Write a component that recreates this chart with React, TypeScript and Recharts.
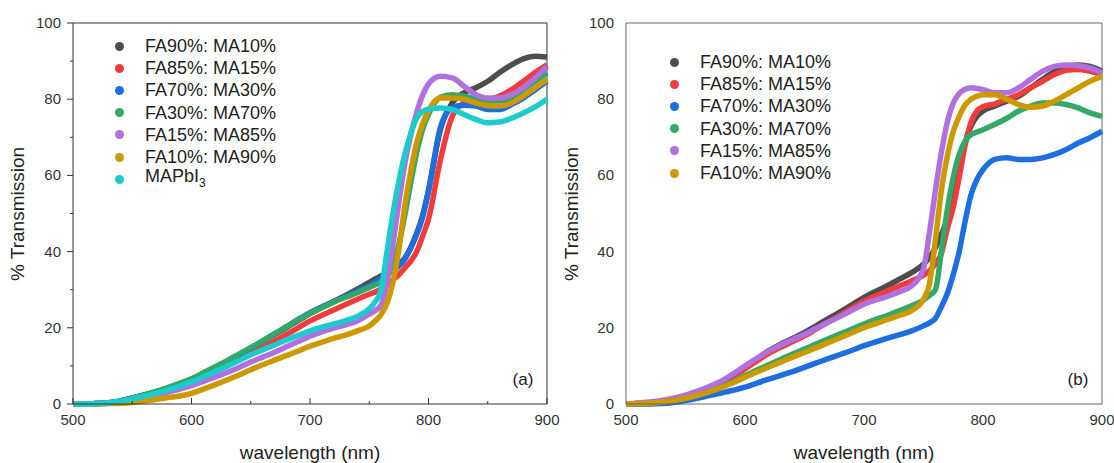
import React from "react";
import { LineChart, Line, XAxis, YAxis, ReferenceLine } from "recharts";

// wavelength grid (nm) — finer around the absorption edge
const wavelengths = [
  500, 510, 520, 530, 540, 550, 560, 570, 580, 590, 600, 610, 620, 630, 640, 650, 660, 670, 680, 690,
  700, 710, 720, 730, 740, 750, 755, 760, 765, 770, 775, 780, 785, 790, 795, 800, 810, 820, 830, 840,
  850, 860, 870, 880, 890, 900,
];

// panel (a)
const aFA90 = [
  0, 0, 0.1, 0.3, 0.8, 1.5, 2.3, 3.2, 4.2, 5.3, 6.5, 8, 9.6, 11.2, 12.9, 14.6, 16.4, 18.2, 20, 21.9,
  23.7, 25.3, 26.9, 28.5, 30.2, 31.9, 32.8, 33.6, 34.6, 35.6, 36.8, 38.3, 41, 44.8, 49.5, 56, 72, 79, 81.7, 83,
  84.7, 87, 89, 90.6, 91.3, 91.1,
];
const aFA85 = [
  0, 0, 0.1, 0.3, 0.7, 1.4, 2.1, 3, 4, 5.1, 6.2, 7.5, 8.9, 10.3, 11.7, 13.1, 14.8, 16.5, 18.2, 20,
  21.8, 23.3, 24.7, 26.1, 27.5, 28.8, 29.4, 30.2, 31.3, 32.6, 34, 35.7, 37.5, 40, 44, 48.5, 64, 75.5, 79, 80,
  80, 80.8, 82.5, 84.7, 87, 89,
];
const aFA70 = [
  0, 0, 0.1, 0.3, 0.8, 1.5, 2.3, 3.2, 4.2, 5.3, 6.4, 7.9, 9.5, 11.2, 12.9, 14.7, 16.5, 18.4, 20.3, 22.2,
  24, 25.5, 26.9, 28.3, 29.7, 31, 32, 33, 34, 35, 36.2, 38, 41, 44.5, 49, 56, 72.5, 77.8, 78.4, 78.2,
  77.3, 77.3, 78.6, 80.3, 82.5, 84.7,
];
const aFA30 = [
  0, 0, 0.1, 0.3, 0.8, 1.6, 2.4, 3.3, 4.3, 5.4, 6.6, 8.2, 9.8, 11.4, 13.1, 14.8, 16.6, 18.4, 20.2, 22.1,
  23.8, 25.3, 26.7, 28, 29.2, 30.6, 31.3, 32, 33.5, 36, 42, 49.5, 58, 66, 72, 76, 80.5, 81.2, 80.8, 80,
  79.5, 79.5, 80.3, 82.5, 84.7, 86.9,
];
const aFA15 = [
  0, 0, 0.1, 0.2, 0.5, 1, 1.6, 2.3, 3.1, 3.9, 4.8, 5.9, 7.1, 8.3, 9.6, 11, 12.3, 13.6, 15, 16.4,
  17.8, 18.9, 19.9, 20.8, 21.8, 23.6, 24.5, 26, 32, 42, 53, 63, 70.5, 76.5, 81, 84, 86, 85.6, 83.4, 81.2,
  80.3, 80.3, 81.2, 83, 85.6, 88.6,
];
const aFA10 = [
  0, 0, 0, 0.1, 0.2, 0.4, 0.8, 1.2, 1.7, 2.1, 2.8, 3.9, 5.1, 6.3, 7.6, 9, 10.3, 11.5, 12.7, 13.9,
  15.2, 16.2, 17.2, 18.1, 19.2, 20.5, 21.8, 23.5, 26.5, 32, 40.5, 52, 61, 68.5, 73.5, 77, 80.3, 80.3, 80, 79,
  78.3, 78.2, 79, 80.8, 83, 85.2,
];
const aMAPbI3 = [
  0, 0, 0.1, 0.3, 0.7, 1.3, 2, 2.8, 3.7, 4.7, 5.8, 7.1, 8.5, 9.9, 11.4, 12.9, 14.2, 15.5, 16.8, 18,
  19.2, 20.2, 21, 21.9, 23, 25, 26.8, 30, 40, 50, 58.5, 65.5, 71, 75, 76.8, 77.4, 77.7, 77.3, 76, 74.7,
  73.8, 74, 75, 76.4, 78, 80,
];

// panel (b)
const bFA90 = [
  0, 0.1, 0.3, 0.6, 1.1, 2, 3, 4.2, 5.6, 7.5, 9.6, 11.8, 14, 15.7, 17.2, 18.8, 20.6, 22.4, 24.2, 26.1,
  28, 29.6, 31.1, 32.8, 34.5, 36.7, 38.5, 41, 44.5, 48.5, 54, 61, 68.5, 73, 75.5, 76.9, 78.2, 79.5, 80.8, 83,
  85.2, 87.3, 88.6, 89, 88.6, 87.3,
];
const bFA85 = [
  0, 0.1, 0.3, 0.6, 1.1, 1.9, 2.9, 4.1, 5.5, 7.3, 9.2, 11.3, 13.3, 14.9, 16.4, 17.9, 19.7, 21.5, 23.3, 25.2,
  27, 28.4, 29.7, 31, 32.3, 33.8, 35, 36.8, 39.5, 46, 51.7, 59.5, 68, 74, 77, 78, 78.8, 80, 81.2, 83,
  84.7, 86.5, 87.6, 87.8, 87.3, 86.5,
];
const bFA70 = [
  0, 0, 0, 0.1, 0.4, 0.9, 1.5, 2.2, 2.9, 3.6, 4.4, 5.5, 6.5, 7.5, 8.5, 9.6, 10.8, 11.9, 13, 14.1,
  15.3, 16.3, 17.3, 18.2, 19.2, 20.5, 21.3, 22.5, 25.5, 29, 34, 40, 48, 55, 59, 61.5, 64.2, 64.6, 64.2, 64.2,
  64.6, 65.5, 66.8, 68.5, 69.9, 71.6,
];
const bFA30 = [
  0, 0.1, 0.2, 0.5, 0.9, 1.5, 2.3, 3.3, 4.5, 5.9, 7.4, 8.9, 10.3, 11.7, 13.1, 14.4, 15.8, 17.1, 18.4, 19.7,
  21, 22.2, 23.3, 24.5, 25.8, 27.3, 28.5, 30, 40, 51, 59.5, 65.5, 69, 70.7, 71.4, 72, 73.4, 75, 76.9, 78.2,
  79, 79, 78.6, 77.7, 76.4, 75.5,
];
const bFA15 = [
  0, 0.2, 0.5, 0.9, 1.5, 2.3, 3.4, 4.6, 6, 7.9, 10, 12, 13.9, 15.5, 16.9, 18.3, 19.9, 21.5, 23, 24.6,
  26.2, 27.3, 28.3, 29.5, 31, 35.5, 45, 56, 66, 74, 79, 81.5, 82.6, 83, 82.8, 82.5, 81.7, 81.7, 83, 85.2,
  87.3, 88.6, 89, 88.8, 88.2, 86.9,
];
const bFA10 = [
  0, 0.1, 0.2, 0.5, 0.9, 1.5, 2.3, 3.2, 4.3, 5.6, 7, 8.4, 9.7, 11, 12.3, 13.5, 14.8, 16.1, 17.4, 18.7,
  20, 21.1, 22.2, 23.3, 24.5, 27.5, 31.5, 43, 56, 65, 71.5, 75.5, 78.5, 80, 80.8, 81.2, 81.2, 80, 78.6, 77.9,
  78.2, 79.5, 81.2, 83, 84.7, 85.9,
];

const names = ["FA90%: MA10%", "FA85%: MA15%", "FA70%: MA30%", "FA30%: MA70%", "FA15%: MA85%", "FA10%: MA90%", "MAPbI3"];
const colors = ["#4d4d4d", "#f03c3c", "#1d6fe0", "#34a866", "#b070e0", "#cc9900", "#1ccccc"];

const panelASeries = [aFA90, aFA85, aFA70, aFA30, aFA15, aFA10, aMAPbI3];
const panelBSeries = [bFA90, bFA85, bFA70, bFA30, bFA15, bFA10];

const FONT = "'Liberation Sans', Arial, sans-serif";

function buildRows(series: number[][]) {
  return wavelengths.map((wl, i) => {
    const row: Record<string, number> = { wl };
    series.forEach((s, k) => (row["s" + k] = s[i]));
    return row;
  });
}

const XTick = (props: any) => {
  const { x, y, payload, withLines } = props;
  const major = payload.value % 100 === 0;
  return (
    <g>
      {withLines && <line x1={x} x2={x} y1={y} y2={y - (major ? 6 : 3)} stroke="#333" strokeWidth={1} />}
      {major && (
        <text x={x} y={y + 21} textAnchor="middle" fontSize={15} fill="#333" fontFamily={FONT}>
          {payload.value}
        </text>
      )}
    </g>
  );
};

const YTick = (props: any) => {
  const { x, y, payload, withLines } = props;
  const major = payload.value % 20 === 0;
  return (
    <g>
      {withLines && <line x1={x} x2={x - (major ? 6 : 3)} y1={y} y2={y} stroke="#333" strokeWidth={1} />}
      {major && (
        <text x={x - 12} y={y + 5} textAnchor="end" fontSize={15} fill="#333" fontFamily={FONT}>
          {payload.value}
        </text>
      )}
    </g>
  );
};

function Panel({ series, width, left, right, withLines, axisColor }: any) {
  const rows = buildRows(series);
  const xTicks = withLines ? [500, 550, 600, 650, 700, 750, 800, 850, 900] : [500, 600, 700, 800, 900];
  const yTicks = withLines ? [0, 10, 20, 30, 40, 50, 60, 70, 80, 90, 100] : [0, 20, 40, 60, 80, 100];
  return (
    <LineChart width={width} height={463} data={rows} margin={{ top: 23, right: right, bottom: 0, left: left - 60 }}>
      <XAxis
        dataKey="wl"
        type="number"
        domain={[500, 900]}
        ticks={xTicks}
        interval={0}
        height={59}
        tickSize={0}
        tickMargin={0}
        stroke={axisColor}
        tick={(p: any) => <XTick {...p} withLines={withLines} />}
      />
      <YAxis
        type="number"
        domain={[0, 100]}
        ticks={yTicks}
        interval={0}
        width={60}
        tickSize={0}
        tickMargin={0}
        stroke={axisColor}
        tick={(p: any) => <YTick {...p} withLines={withLines} />}
      />
      <ReferenceLine y={100} stroke={axisColor} strokeWidth={1} />
      <ReferenceLine x={900} stroke={axisColor} strokeWidth={1} />
      {series.map((_: number[], k: number) => (
        <Line
          key={k}
          dataKey={"s" + k}
          type="monotone"
          stroke={colors[k]}
          strokeWidth={5.5}
          dot={false}
          isAnimationActive={false}
        />
      ))}
    </LineChart>
  );
}

function LegendBox({ count, x, y, gap }: { count: number; x: number; y: number; gap: number }) {
  return (
    <div style={{ position: "absolute", left: x, top: y }}>
      {names.slice(0, count).map((n, k) => (
        <div key={k} style={{ height: 22.2, display: "flex", alignItems: "center" }}>
          <span style={{ width: 9, height: 9, borderRadius: "50%", background: colors[k], display: "inline-block" }} />
          <span style={{ marginLeft: gap, fontSize: 18, color: "#222", fontFamily: FONT, lineHeight: "22px" }}>
            {n === "MAPbI3" ? (
              <>
                MAPbI<sub style={{ fontSize: 12 }}>3</sub>
              </>
            ) : (
              n
            )}
          </span>
        </div>
      ))}
    </div>
  );
}

const axisTitle: React.CSSProperties = { position: "absolute", fontSize: 19, color: "#222", fontFamily: FONT, whiteSpace: "nowrap" };

export default function App() {
  return (
    <div style={{ position: "absolute", left: 0, top: 0, width: 1114, height: 463, background: "#fff", overflow: "hidden" }}>
      <div style={{ position: "absolute", left: 0, top: 0 }}>
        <Panel series={panelASeries} width={575} left={73} right={28} withLines={true} axisColor="#333" />
      </div>
      <div style={{ position: "absolute", left: 556, top: 0 }}>
        <Panel series={panelBSeries} width={558} left={70} right={12} withLines={false} axisColor="#666" />
      </div>

      <LegendBox count={7} x={115} y={35} gap={21} />
      <LegendBox count={6} x={670} y={51} gap={21} />

      <div style={{ ...axisTitle, left: 523, top: 380, transform: "translate(-50%,-50%)", fontSize: 17 }}>(a)</div>
      <div style={{ ...axisTitle, left: 1078, top: 380, transform: "translate(-50%,-50%)", fontSize: 17 }}>(b)</div>

      <div style={{ ...axisTitle, left: 310, top: 453, transform: "translate(-50%,-50%)" }}>wavelength (nm)</div>
      <div style={{ ...axisTitle, left: 864, top: 453, transform: "translate(-50%,-50%)" }}>wavelength (nm)</div>
      <div style={{ ...axisTitle, left: 18, top: 214, transform: "translate(-50%,-50%) rotate(-90deg)" }}>% Transmission</div>
      <div style={{ ...axisTitle, left: 572, top: 214, transform: "translate(-50%,-50%) rotate(-90deg)" }}>% Transmission</div>
    </div>
  );
}
